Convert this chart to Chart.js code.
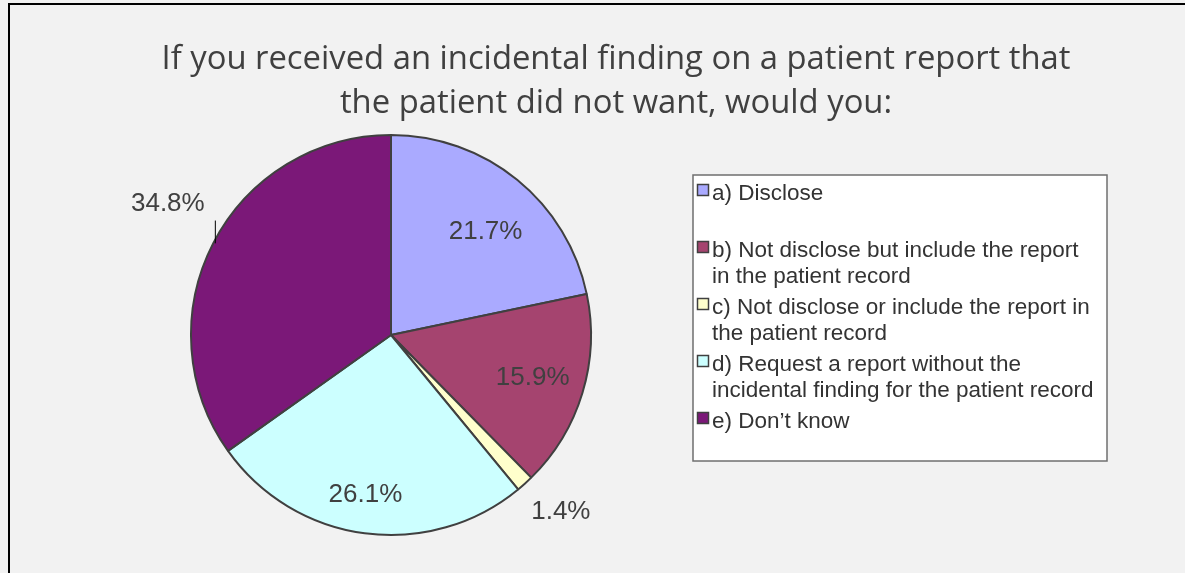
<!DOCTYPE html>
<html>
<head>
<meta charset="utf-8">
<script src="https://cdn.jsdelivr.net/npm/chart.js@4/dist/chart.umd.min.js"></script>
<style>
  html, body { margin: 0; padding: 0; background: #f2f2f2; }
  canvas { display: block; }
</style>
</head>
<body>
<canvas id="pieChart" width="1185" height="573"></canvas>
<script>
// Dữ liệu biểu đồ
const titleLines = [
    'If you received an incidental finding on a patient report that',
    'the patient did not want, would you:'
];
const legendLines = [
    ['a) Disclose'],
    ['b) Not disclose but include the report', 'in the patient record'],
    ['c) Not disclose or include the report in', 'the patient record'],
    ['d) Request a report without the', 'incidental finding for the patient record'],
    ['e) Don\u2019t know']
];
const categories = legendLines.map(l => l.join(' '));
const percentValues = [21.7, 15.9, 1.4, 26.1, 34.8];
const percentLabels = ['21.7%', '15.9%', '1.4%', '26.1%', '34.8%'];

const sliceColors = ['#aaaaff', '#a5446f', '#ffffcc', '#ccffff', '#7b1878'];
// vị trí nhãn: hệ số bán kính và độ lệch góc (độ)
const labelRadius = [0.70, 0.74, 1.225, 0.81, 1.295];
const labelShift = [3.4, 0, -1.9, 1.5, 3.2];

// Plugin vẽ khung, tiêu đề, chú thích và nhãn phần trăm
const decorPlugin = {
    id: 'decor',
    beforeDraw(chart) {
        const ctx = chart.ctx;
        ctx.save();
        ctx.fillStyle = '#f2f2f2';
        ctx.fillRect(0, 0, chart.width, chart.height);
        ctx.strokeStyle = '#000';
        ctx.lineWidth = 2;
        ctx.beginPath();
        ctx.moveTo(9, chart.height);
        ctx.lineTo(9, 4);
        ctx.lineTo(chart.width, 4);
        ctx.stroke();

        ctx.fillStyle = '#404040';
        ctx.font = '32.8px "Open Sans"';
        ctx.textAlign = 'center';
        ctx.textBaseline = 'alphabetic';
        titleLines.forEach((line, i) => ctx.fillText(line, 616, 69 + i * 44));
        ctx.restore();
    },
    afterDraw(chart) {
        const ctx = chart.ctx;
        const meta = chart.getDatasetMeta(0);
        ctx.save();

        // nhãn phần trăm
        ctx.fillStyle = '#404040';
        ctx.font = '26px "Liberation Sans", Arial, sans-serif';
        ctx.textAlign = 'center';
        ctx.textBaseline = 'middle';
        meta.data.forEach((arc, i) => {
            const p = arc.getProps(['x', 'y', 'startAngle', 'endAngle', 'outerRadius'], true);
            const mid = (p.startAngle + p.endAngle) / 2 + labelShift[i] * Math.PI / 180;
            const r = p.outerRadius * labelRadius[i];
            const lx = p.x + Math.cos(mid) * r;
            const ly = p.y + Math.sin(mid) * r;
            ctx.fillText(percentLabels[i], lx, ly);
            if (labelRadius[i] > 1.25) {
                // đường dẫn tới lát cắt
                const ex = lx + 47;
                const dy = Math.sqrt(Math.max(p.outerRadius ** 2 - (ex - p.x) ** 2, 0));
                ctx.strokeStyle = '#000';
                ctx.lineWidth = 1;
                ctx.beginPath();
                ctx.moveTo(ex + 0.5, ly + 17);
                ctx.lineTo(ex + 0.5, p.y - dy + 3);
                ctx.stroke();
            }
        });

        // hộp chú thích
        const bx = 693, by = 175, bw = 414, bh = 286;
        ctx.fillStyle = '#ffffff';
        ctx.fillRect(bx, by, bw, bh);
        ctx.strokeStyle = '#6f6f6f';
        ctx.lineWidth = 1.5;
        ctx.strokeRect(bx, by, bw, bh);

        ctx.textAlign = 'left';
        ctx.textBaseline = 'alphabetic';
        ctx.font = '22.5px "Liberation Sans", Arial, sans-serif';
        legendLines.forEach((lines, i) => {
            const base = 200 + i * 57;
            ctx.fillStyle = sliceColors[i];
            ctx.fillRect(697.5, base - 15.5, 11, 11);
            ctx.strokeStyle = '#404040';
            ctx.lineWidth = 1.5;
            ctx.strokeRect(697.5, base - 15.5, 11, 11);
            ctx.fillStyle = '#333333';
            lines.forEach((line, j) => ctx.fillText(line, 712, base + j * 26));
        });
        ctx.restore();
    }
};

const chart = new Chart(document.getElementById('pieChart').getContext('2d'), {
    type: 'pie',
    data: {
        labels: categories,
        datasets: [{
            data: percentValues,
            backgroundColor: sliceColors,
            borderColor: '#404040',
            borderWidth: 2
        }]
    },
    options: {
        responsive: false,
        animation: false,
        layout: {
            padding: { left: 190, top: 134, right: 593, bottom: 37 }
        },
        plugins: {
            legend: { display: false },
            tooltip: { enabled: false },
            title: { display: false }
        }
    },
    plugins: [decorPlugin]
});
</script>
</body>
</html>
